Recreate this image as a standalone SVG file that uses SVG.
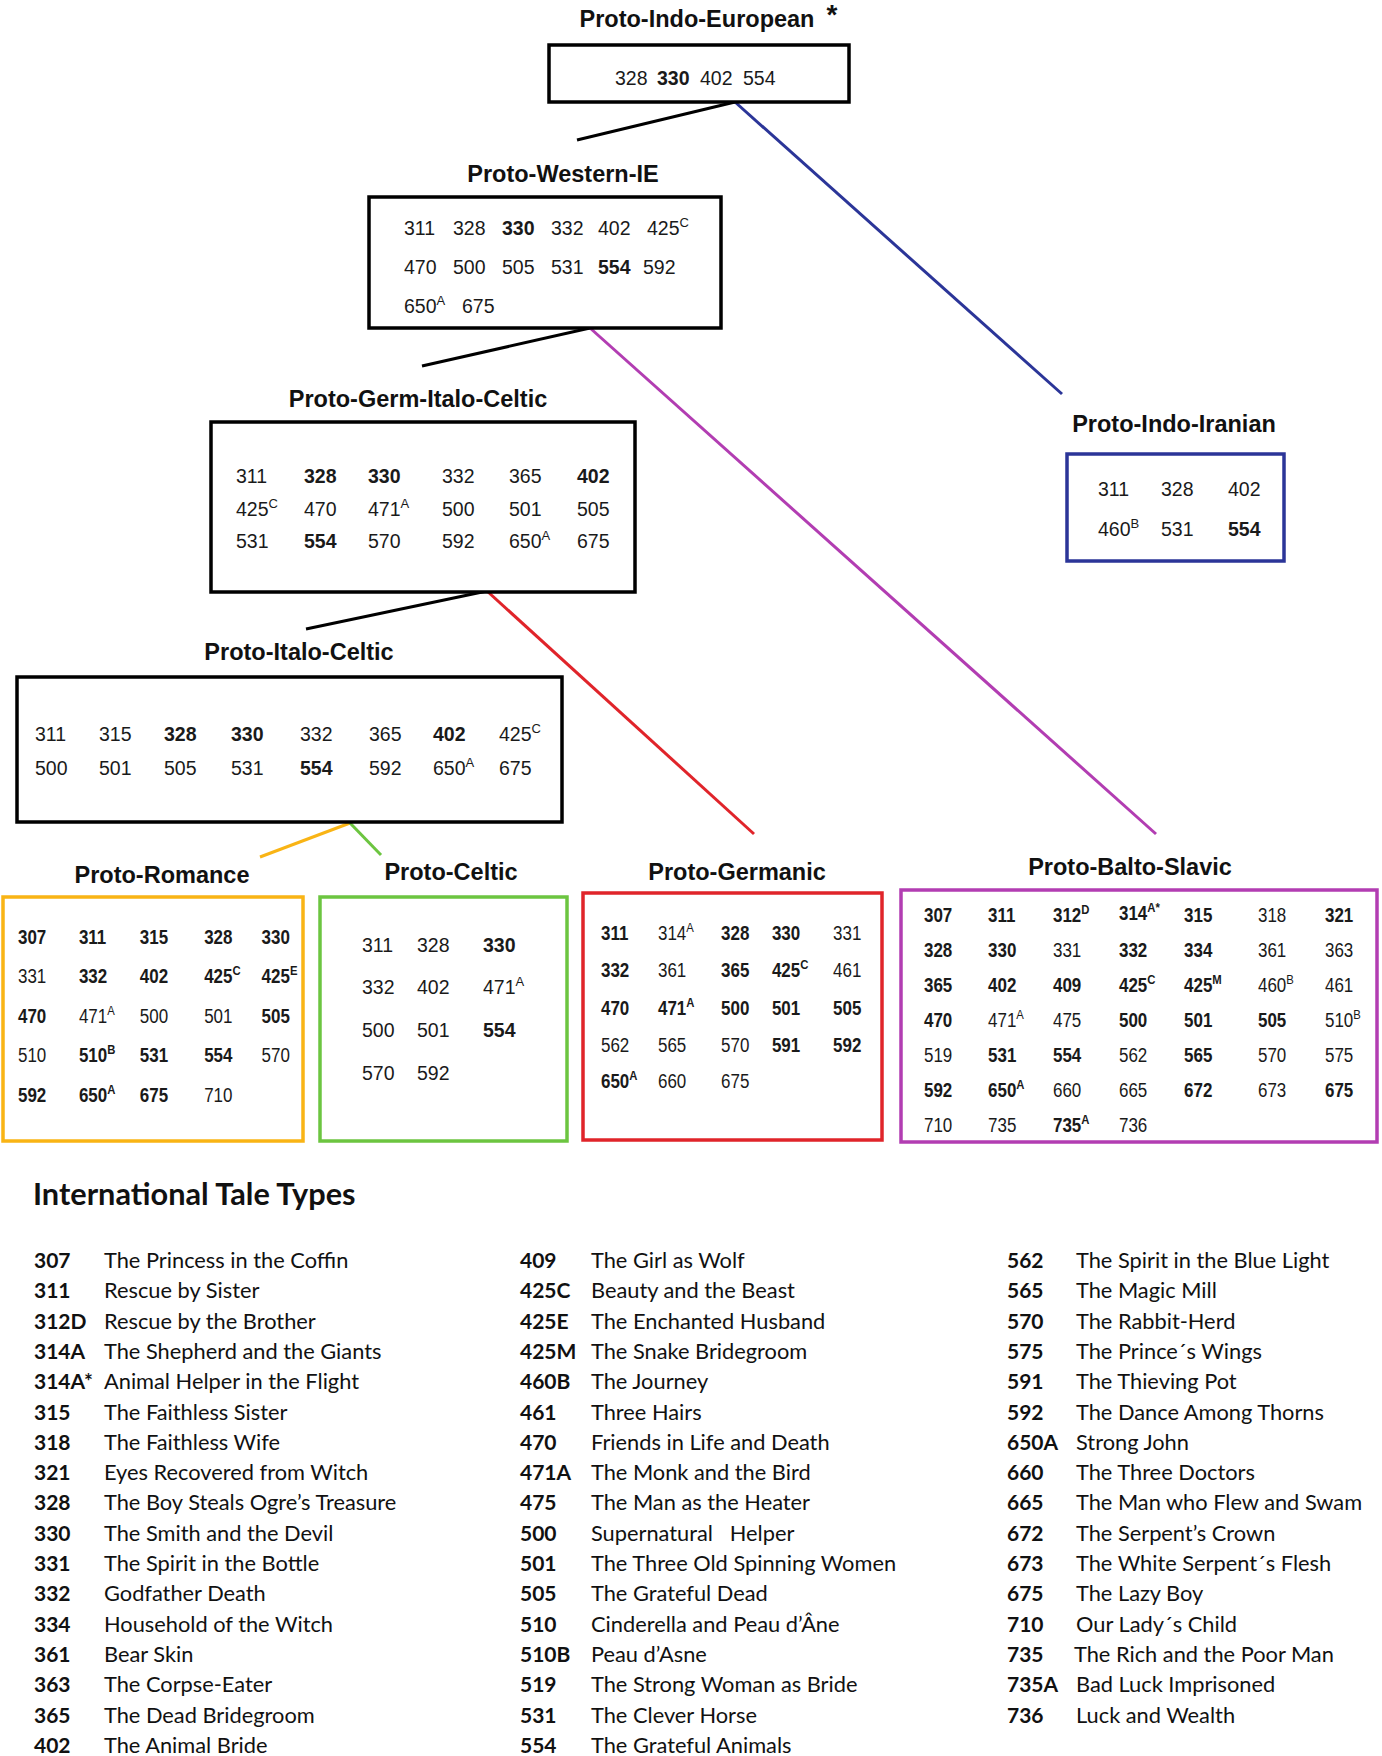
<svg xmlns="http://www.w3.org/2000/svg" width="1382" height="1756" viewBox="0 0 1382 1756">
<style>
.bg{fill:#fff}
.title{font-family:"Liberation Sans",Arial,sans-serif;font-weight:bold;font-size:23.5px;fill:#111;text-anchor:middle}
.n{font-family:"Liberation Sans",Arial,sans-serif;font-size:19.5px;fill:#1a1a1a}
.b{font-weight:bold}
.sup{font-size:13px}
.box{fill:#fff;stroke-width:3.5}
.k{stroke:#000}
.blue{stroke:#2B3598}
.mag{stroke:#B23DB2}
.red{stroke:#E0242A}
.ora{stroke:#F9B415}
.grn{stroke:#6CC540}
.ln{fill:none;stroke-width:3}
.lh{font-family:Lato,"Open Sans",sans-serif;font-weight:bold;font-size:30.7px;fill:#111}
.lc{font-family:Lato,"Open Sans",sans-serif;font-weight:bold;font-size:21px;fill:#111}
.lt{font-family:Lato,"Open Sans",sans-serif;font-size:21.8px;fill:#111}
</style>
<rect class="bg" x="0" y="0" width="1382" height="1756"/>

<g id="connectors">
<line class="ln k" x1="735" y1="102" x2="577" y2="140"/>
<line class="ln blue" x1="735" y1="102" x2="1062" y2="394"/>
<line class="ln k" x1="590" y1="328" x2="422" y2="366"/>
<line class="ln mag" x1="590" y1="328" x2="1156" y2="834"/>
<line class="ln k" x1="487" y1="591" x2="306" y2="629"/>
<line class="ln red" x1="487" y1="591" x2="754" y2="834"/>
<line class="ln ora" x1="350" y1="823" x2="260" y2="857"/>
<line class="ln grn" x1="350" y1="823" x2="381" y2="855"/>
</g>

<g id="proto-indo-european">
<text class="title" x="697" y="27">Proto-Indo-European</text>
<text class="title" x="832" y="24" style="font-size:28px">*</text>
<rect class="box k" x="549" y="45" width="300" height="57"/>
<text class="n" x="615" y="85">328</text>
<text class="n b" x="657" y="85">330</text>
<text class="n" x="700" y="85">402</text>
<text class="n" x="743" y="85">554</text>
</g>

<g id="proto-western-ie">
<text class="title" x="563" y="182">Proto-Western-IE</text>
<rect class="box k" x="369" y="197" width="352" height="131"/>
<text class="n" x="404" y="235">311</text>
<text class="n" x="453" y="235">328</text>
<text class="n b" x="502" y="235">330</text>
<text class="n" x="551" y="235">332</text>
<text class="n" x="598" y="235">402</text>
<text class="n" x="647" y="235">425<tspan class="sup" dy="-8">C</tspan></text>
<text class="n" x="404" y="274">470</text>
<text class="n" x="453" y="274">500</text>
<text class="n" x="502" y="274">505</text>
<text class="n" x="551" y="274">531</text>
<text class="n b" x="598" y="274">554</text>
<text class="n" x="643" y="274">592</text>
<text class="n" x="404" y="313">650<tspan class="sup" dy="-8">A</tspan></text>
<text class="n" x="462" y="313">675</text>
</g>

<g id="proto-germ-italo-celtic">
<text class="title" x="418" y="407">Proto-Germ-Italo-Celtic</text>
<rect class="box k" x="211" y="422" width="424" height="170"/>
<text class="n" x="236" y="483">311</text>
<text class="n b" x="304" y="483">328</text>
<text class="n b" x="368" y="483">330</text>
<text class="n" x="442" y="483">332</text>
<text class="n" x="509" y="483">365</text>
<text class="n b" x="577" y="483">402</text>
<text class="n" x="236" y="516">425<tspan class="sup" dy="-8">C</tspan></text>
<text class="n" x="304" y="516">470</text>
<text class="n" x="368" y="516">471<tspan class="sup" dy="-8">A</tspan></text>
<text class="n" x="442" y="516">500</text>
<text class="n" x="509" y="516">501</text>
<text class="n" x="577" y="516">505</text>
<text class="n" x="236" y="548">531</text>
<text class="n b" x="304" y="548">554</text>
<text class="n" x="368" y="548">570</text>
<text class="n" x="442" y="548">592</text>
<text class="n" x="509" y="548">650<tspan class="sup" dy="-8">A</tspan></text>
<text class="n" x="577" y="548">675</text>
</g>

<g id="proto-italo-celtic">
<text class="title" x="299" y="660">Proto-Italo-Celtic</text>
<rect class="box k" x="17" y="677" width="545" height="145"/>
<text class="n" x="35" y="741">311</text>
<text class="n" x="99" y="741">315</text>
<text class="n b" x="164" y="741">328</text>
<text class="n b" x="231" y="741">330</text>
<text class="n" x="300" y="741">332</text>
<text class="n" x="369" y="741">365</text>
<text class="n b" x="433" y="741">402</text>
<text class="n" x="499" y="741">425<tspan class="sup" dy="-8">C</tspan></text>
<text class="n" x="35" y="775">500</text>
<text class="n" x="99" y="775">501</text>
<text class="n" x="164" y="775">505</text>
<text class="n" x="231" y="775">531</text>
<text class="n b" x="300" y="775">554</text>
<text class="n" x="369" y="775">592</text>
<text class="n" x="433" y="775">650<tspan class="sup" dy="-8">A</tspan></text>
<text class="n" x="499" y="775">675</text>
</g>

<g id="proto-indo-iranian">
<text class="title" x="1174" y="432">Proto-Indo-Iranian</text>
<rect class="box blue" x="1067" y="454" width="217" height="107"/>
<text class="n" x="1098" y="496">311</text>
<text class="n" x="1161" y="496">328</text>
<text class="n" x="1228" y="496">402</text>
<text class="n" x="1098" y="536">460<tspan class="sup" dy="-8">B</tspan></text>
<text class="n" x="1161" y="536">531</text>
<text class="n b" x="1228" y="536">554</text>
</g>

<g id="proto-romance">
<text class="title" x="162" y="883">Proto-Romance</text>
<rect class="box ora" x="3" y="897" width="300" height="244"/>
<g transform="translate(18,0) scale(0.87,1)">
<text class="n b" x="0" y="944">307</text>
<text class="n b" x="70" y="944">311</text>
<text class="n b" x="140" y="944">315</text>
<text class="n b" x="214" y="944">328</text>
<text class="n b" x="280" y="944">330</text>
<text class="n" x="0" y="983">331</text>
<text class="n b" x="70" y="983">332</text>
<text class="n b" x="140" y="983">402</text>
<text class="n b" x="214" y="983">425<tspan class="sup" dy="-8">C</tspan></text>
<text class="n b" x="280" y="983">425<tspan class="sup" dy="-8">E</tspan></text>
<text class="n b" x="0" y="1023">470</text>
<text class="n" x="70" y="1023">471<tspan class="sup" dy="-8">A</tspan></text>
<text class="n" x="140" y="1023">500</text>
<text class="n" x="214" y="1023">501</text>
<text class="n b" x="280" y="1023">505</text>
<text class="n" x="0" y="1062">510</text>
<text class="n b" x="70" y="1062">510<tspan class="sup" dy="-8">B</tspan></text>
<text class="n b" x="140" y="1062">531</text>
<text class="n b" x="214" y="1062">554</text>
<text class="n" x="280" y="1062">570</text>
<text class="n b" x="0" y="1102">592</text>
<text class="n b" x="70" y="1102">650<tspan class="sup" dy="-8">A</tspan></text>
<text class="n b" x="140" y="1102">675</text>
<text class="n" x="214" y="1102">710</text>
</g>
</g>

<g id="proto-celtic">
<text class="title" x="451" y="880">Proto-Celtic</text>
<rect class="box grn" x="320" y="897" width="247" height="244"/>
<text class="n" x="362" y="952">311</text>
<text class="n" x="417" y="952">328</text>
<text class="n b" x="483" y="952">330</text>
<text class="n" x="362" y="994">332</text>
<text class="n" x="417" y="994">402</text>
<text class="n" x="483" y="994">471<tspan class="sup" dy="-8">A</tspan></text>
<text class="n" x="362" y="1037">500</text>
<text class="n" x="417" y="1037">501</text>
<text class="n b" x="483" y="1037">554</text>
<text class="n" x="362" y="1080">570</text>
<text class="n" x="417" y="1080">592</text>
</g>

<g id="proto-germanic">
<text class="title" x="737" y="880">Proto-Germanic</text>
<rect class="box red" x="583" y="893" width="299" height="247"/>
<g transform="translate(601,0) scale(0.87,1)">
<text class="n b" x="0" y="940">311</text>
<text class="n" x="65.5" y="940">314<tspan class="sup" dy="-8">A</tspan></text>
<text class="n b" x="138" y="940">328</text>
<text class="n b" x="196.5" y="940">330</text>
<text class="n" x="266.7" y="940">331</text>
<text class="n b" x="0" y="977">332</text>
<text class="n" x="65.5" y="977">361</text>
<text class="n b" x="138" y="977">365</text>
<text class="n b" x="196.5" y="977">425<tspan class="sup" dy="-8">C</tspan></text>
<text class="n" x="266.7" y="977">461</text>
<text class="n b" x="0" y="1015">470</text>
<text class="n b" x="65.5" y="1015">471<tspan class="sup" dy="-8">A</tspan></text>
<text class="n b" x="138" y="1015">500</text>
<text class="n b" x="196.5" y="1015">501</text>
<text class="n b" x="266.7" y="1015">505</text>
<text class="n" x="0" y="1052">562</text>
<text class="n" x="65.5" y="1052">565</text>
<text class="n" x="138" y="1052">570</text>
<text class="n b" x="196.5" y="1052">591</text>
<text class="n b" x="266.7" y="1052">592</text>
<text class="n b" x="0" y="1088">650<tspan class="sup" dy="-8">A</tspan></text>
<text class="n" x="65.5" y="1088">660</text>
<text class="n" x="138" y="1088">675</text>
</g>
</g>

<g id="proto-balto-slavic">
<text class="title" x="1130" y="875">Proto-Balto-Slavic</text>
<rect class="box mag" x="901" y="890" width="476" height="252"/>
<g transform="translate(924,0) scale(0.87,1)">
<text class="n b" x="0" y="922">307</text>
<text class="n b" x="73.6" y="922">311</text>
<text class="n b" x="148.3" y="922">312<tspan class="sup" dy="-8">D</tspan></text>
<text class="n b" x="224.1" y="920">314<tspan class="sup" dy="-8">A*</tspan></text>
<text class="n b" x="298.9" y="922">315</text>
<text class="n" x="383.9" y="922">318</text>
<text class="n b" x="460.9" y="922">321</text>
<text class="n b" x="0" y="957">328</text>
<text class="n b" x="73.6" y="957">330</text>
<text class="n" x="148.3" y="957">331</text>
<text class="n b" x="224.1" y="957">332</text>
<text class="n b" x="298.9" y="957">334</text>
<text class="n" x="383.9" y="957">361</text>
<text class="n" x="460.9" y="957">363</text>
<text class="n b" x="0" y="992">365</text>
<text class="n b" x="73.6" y="992">402</text>
<text class="n b" x="148.3" y="992">409</text>
<text class="n b" x="224.1" y="992">425<tspan class="sup" dy="-8">C</tspan></text>
<text class="n b" x="298.9" y="992">425<tspan class="sup" dy="-8">M</tspan></text>
<text class="n" x="383.9" y="992">460<tspan class="sup" dy="-8">B</tspan></text>
<text class="n" x="460.9" y="992">461</text>
<text class="n b" x="0" y="1027">470</text>
<text class="n" x="73.6" y="1027">471<tspan class="sup" dy="-8">A</tspan></text>
<text class="n" x="148.3" y="1027">475</text>
<text class="n b" x="224.1" y="1027">500</text>
<text class="n b" x="298.9" y="1027">501</text>
<text class="n b" x="383.9" y="1027">505</text>
<text class="n" x="460.9" y="1027">510<tspan class="sup" dy="-8">B</tspan></text>
<text class="n" x="0" y="1062">519</text>
<text class="n b" x="73.6" y="1062">531</text>
<text class="n b" x="148.3" y="1062">554</text>
<text class="n" x="224.1" y="1062">562</text>
<text class="n b" x="298.9" y="1062">565</text>
<text class="n" x="383.9" y="1062">570</text>
<text class="n" x="460.9" y="1062">575</text>
<text class="n b" x="0" y="1097">592</text>
<text class="n b" x="73.6" y="1097">650<tspan class="sup" dy="-8">A</tspan></text>
<text class="n" x="148.3" y="1097">660</text>
<text class="n" x="224.1" y="1097">665</text>
<text class="n b" x="298.9" y="1097">672</text>
<text class="n" x="383.9" y="1097">673</text>
<text class="n b" x="460.9" y="1097">675</text>
<text class="n" x="0" y="1132">710</text>
<text class="n" x="73.6" y="1132">735</text>
<text class="n b" x="148.3" y="1132">735<tspan class="sup" dy="-8">A</tspan></text>
<text class="n" x="224.1" y="1132">736</text>
</g>
</g>

<g id="legend">
<text class="lh" x="33" y="1205">International Tale Types</text>
<g id="legend-col1">
<text class="lc" x="34" y="1268">307</text><text class="lt" x="104" y="1268">The Princess in the Coffin</text>
<text class="lc" x="34" y="1298.3">311</text><text class="lt" x="104" y="1298.3">Rescue by Sister</text>
<text class="lc" x="34" y="1328.6">312D</text><text class="lt" x="104" y="1328.6">Rescue by the Brother</text>
<text class="lc" x="34" y="1358.9">314A</text><text class="lt" x="104" y="1358.9">The Shepherd and the Giants</text>
<text class="lc" x="34" y="1389.2">314A*</text><text class="lt" x="104" y="1389.2">Animal Helper in the Flight</text>
<text class="lc" x="34" y="1419.5">315</text><text class="lt" x="104" y="1419.5">The Faithless Sister</text>
<text class="lc" x="34" y="1449.8">318</text><text class="lt" x="104" y="1449.8">The Faithless Wife</text>
<text class="lc" x="34" y="1480.1">321</text><text class="lt" x="104" y="1480.1">Eyes Recovered from Witch</text>
<text class="lc" x="34" y="1510.4">328</text><text class="lt" x="104" y="1510.4">The Boy Steals Ogre’s Treasure</text>
<text class="lc" x="34" y="1540.7">330</text><text class="lt" x="104" y="1540.7">The Smith and the Devil</text>
<text class="lc" x="34" y="1571">331</text><text class="lt" x="104" y="1571">The Spirit in the Bottle</text>
<text class="lc" x="34" y="1601.3">332</text><text class="lt" x="104" y="1601.3">Godfather Death</text>
<text class="lc" x="34" y="1631.6">334</text><text class="lt" x="104" y="1631.6">Household of the Witch</text>
<text class="lc" x="34" y="1661.9">361</text><text class="lt" x="104" y="1661.9">Bear Skin</text>
<text class="lc" x="34" y="1692.2">363</text><text class="lt" x="104" y="1692.2">The Corpse-Eater</text>
<text class="lc" x="34" y="1722.5">365</text><text class="lt" x="104" y="1722.5">The Dead Bridegroom</text>
<text class="lc" x="34" y="1752.8">402</text><text class="lt" x="104" y="1752.8">The Animal Bride</text>
</g>
<g id="legend-col2">
<text class="lc" x="520" y="1268">409</text><text class="lt" x="591" y="1268">The Girl as Wolf</text>
<text class="lc" x="520" y="1298.3">425C</text><text class="lt" x="591" y="1298.3">Beauty and the Beast</text>
<text class="lc" x="520" y="1328.6">425E</text><text class="lt" x="591" y="1328.6">The Enchanted Husband</text>
<text class="lc" x="520" y="1358.9">425M</text><text class="lt" x="591" y="1358.9">The Snake Bridegroom</text>
<text class="lc" x="520" y="1389.2">460B</text><text class="lt" x="591" y="1389.2">The Journey</text>
<text class="lc" x="520" y="1419.5">461</text><text class="lt" x="591" y="1419.5">Three Hairs</text>
<text class="lc" x="520" y="1449.8">470</text><text class="lt" x="591" y="1449.8">Friends in Life and Death</text>
<text class="lc" x="520" y="1480.1">471A</text><text class="lt" x="591" y="1480.1">The Monk and the Bird</text>
<text class="lc" x="520" y="1510.4">475</text><text class="lt" x="591" y="1510.4">The Man as the Heater</text>
<text class="lc" x="520" y="1540.7">500</text><text class="lt" x="591" y="1540.7" xml:space="preserve">Supernatural   Helper</text>
<text class="lc" x="520" y="1571">501</text><text class="lt" x="591" y="1571">The Three Old Spinning Women</text>
<text class="lc" x="520" y="1601.3">505</text><text class="lt" x="591" y="1601.3">The Grateful Dead</text>
<text class="lc" x="520" y="1631.6">510</text><text class="lt" x="591" y="1631.6">Cinderella and Peau d’Âne</text>
<text class="lc" x="520" y="1661.9">510B</text><text class="lt" x="591" y="1661.9">Peau d’Asne</text>
<text class="lc" x="520" y="1692.2">519</text><text class="lt" x="591" y="1692.2">The Strong Woman as Bride</text>
<text class="lc" x="520" y="1722.5">531</text><text class="lt" x="591" y="1722.5">The Clever Horse</text>
<text class="lc" x="520" y="1752.8">554</text><text class="lt" x="591" y="1752.8">The Grateful Animals</text>
</g>
<g id="legend-col3">
<text class="lc" x="1007" y="1268">562</text><text class="lt" x="1076" y="1268">The Spirit in the Blue Light</text>
<text class="lc" x="1007" y="1298.3">565</text><text class="lt" x="1076" y="1298.3">The Magic Mill</text>
<text class="lc" x="1007" y="1328.6">570</text><text class="lt" x="1076" y="1328.6">The Rabbit-Herd</text>
<text class="lc" x="1007" y="1358.9">575</text><text class="lt" x="1076" y="1358.9">The Prince´s Wings</text>
<text class="lc" x="1007" y="1389.2">591</text><text class="lt" x="1076" y="1389.2">The Thieving Pot</text>
<text class="lc" x="1007" y="1419.5">592</text><text class="lt" x="1076" y="1419.5">The Dance Among Thorns</text>
<text class="lc" x="1007" y="1449.8">650A</text><text class="lt" x="1076" y="1449.8">Strong John</text>
<text class="lc" x="1007" y="1480.1">660</text><text class="lt" x="1076" y="1480.1">The Three Doctors</text>
<text class="lc" x="1007" y="1510.4">665</text><text class="lt" x="1076" y="1510.4">The Man who Flew and Swam</text>
<text class="lc" x="1007" y="1540.7">672</text><text class="lt" x="1076" y="1540.7">The Serpent’s Crown</text>
<text class="lc" x="1007" y="1571">673</text><text class="lt" x="1076" y="1571">The White Serpent´s Flesh</text>
<text class="lc" x="1007" y="1601.3">675</text><text class="lt" x="1076" y="1601.3">The Lazy Boy</text>
<text class="lc" x="1007" y="1631.6">710</text><text class="lt" x="1076" y="1631.6">Our Lady´s Child</text>
<text class="lc" x="1007" y="1661.9">735</text><text class="lt" x="1074" y="1661.9">The Rich and the Poor Man</text>
<text class="lc" x="1007" y="1692.2">735A</text><text class="lt" x="1076" y="1692.2">Bad Luck Imprisoned</text>
<text class="lc" x="1007" y="1722.5">736</text><text class="lt" x="1076" y="1722.5">Luck and Wealth</text>
</g>
</g>
</svg>
